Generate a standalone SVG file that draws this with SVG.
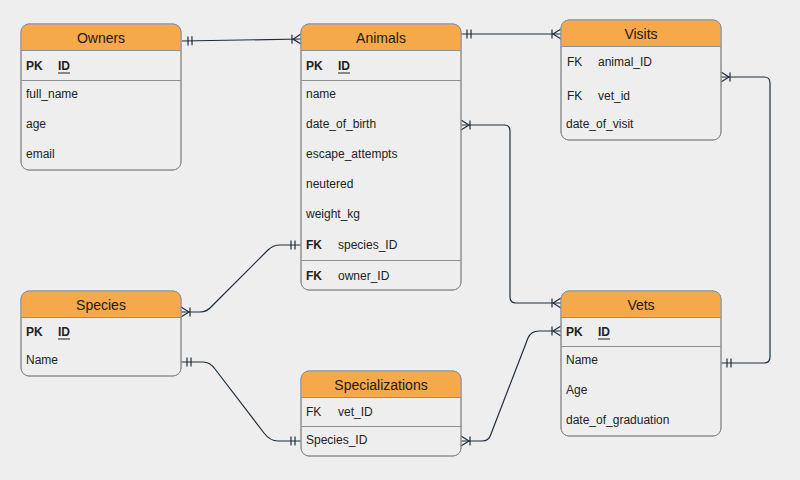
<svg xmlns="http://www.w3.org/2000/svg" width="800" height="480" viewBox="0 0 800 480">
<style>
.bg{fill:#eeeeee}
.box{fill:#eeeeee;stroke:#909090;stroke-width:1}
.hdr{fill:#f5a94b;stroke:none}
.sep{stroke:#909090;stroke-width:1}
.t{font-family:"Liberation Sans",Arial,sans-serif;font-size:12px;fill:#222222}
.b{font-weight:bold}
.h{font-family:"Liberation Sans",Arial,sans-serif;font-size:14px;fill:#1a1a1a;text-anchor:middle}
.ul{stroke:#222222;stroke-width:1}
.e{fill:none;stroke:#1d2d3d;stroke-width:1.2}
</style>
<defs>
<marker id="one" markerUnits="userSpaceOnUse" viewBox="-14 -7 16 14" refX="0" refY="0" markerWidth="16" markerHeight="14" orient="auto-start-reverse">
<path d="M-6 -4.5V4.5M-10 -4.5V4.5" fill="none" stroke="#1d2d3d" stroke-width="1.2"/>
</marker>
<marker id="many" markerUnits="userSpaceOnUse" viewBox="-14 -7 16 14" refX="0" refY="0" markerWidth="16" markerHeight="14" orient="auto-start-reverse">
<path d="M-9 -4.5V4.5M-8 0L0 -5M-8 0L0 5" fill="none" stroke="#1d2d3d" stroke-width="1.2"/>
</marker>
</defs>
<rect class="bg" x="0" y="0" width="800" height="480"/>

<g id="connectors">
<path class="e" d="M182 41L301 39" marker-start="url(#one)" marker-end="url(#many)"/>
<path class="e" d="M461 34L561 34" marker-start="url(#one)" marker-end="url(#many)"/>
<path class="e" d="M461 125L504 125Q510 125 510 131L510 297Q510 303 516 303L561 303" marker-start="url(#many)" marker-end="url(#many)"/>
<path class="e" d="M721 77L764 77Q770 77 770 83L770 357Q770 363 764 363L721 363" marker-start="url(#many)" marker-end="url(#one)"/>
<path class="e" d="M181 312L200 312Q207 312 212 306L268 250Q273 245 280 245L301 245" marker-start="url(#many)" marker-end="url(#one)"/>
<path class="e" d="M181 362L203 362Q210 362 215 369L264 433Q270 441 278 441L301 441" marker-start="url(#one)" marker-end="url(#one)"/>
<path class="e" d="M461 441L482 441Q489 441 491 434L528 338Q531 331 539 331L561 331" marker-start="url(#many)" marker-end="url(#many)"/>
</g>

<g id="owners">
<rect class="box" x="21" y="24" width="160" height="146" rx="8"/>
<path class="hdr" d="M21.5 50V32Q21.5 24.5 29 24.5H173Q180.5 24.5 180.5 32V50Z"/>
<rect x="21" y="24" width="160" height="146" rx="8" fill="none" stroke="#909090"/>
<line class="sep" x1="21" y1="50.5" x2="181" y2="50.5"/>
<text class="h" x="101" y="43">Owners</text>
<text class="t b" x="26" y="70">PK</text>
<text class="t b" x="58" y="70">ID</text>
<line class="ul" x1="58" y1="73" x2="70" y2="73"/>
<line class="sep" x1="21" y1="80.5" x2="181" y2="80.5"/>
<text class="t" x="26" y="98">full_name</text>
<text class="t" x="26" y="128">age</text>
<text class="t" x="26" y="158">email</text>
</g>

<g id="animals">
<rect class="box" x="301" y="24" width="160" height="266" rx="8"/>
<path class="hdr" d="M301.5 50V32Q301.5 24.5 309 24.5H453Q460.5 24.5 460.5 32V50Z"/>
<rect x="301" y="24" width="160" height="266" rx="8" fill="none" stroke="#909090"/>
<line class="sep" x1="301" y1="50.5" x2="461" y2="50.5"/>
<text class="h" x="381" y="43">Animals</text>
<text class="t b" x="306" y="70">PK</text>
<text class="t b" x="338" y="70">ID</text>
<line class="ul" x1="338" y1="73" x2="350" y2="73"/>
<line class="sep" x1="301" y1="80.5" x2="461" y2="80.5"/>
<text class="t" x="306" y="98">name</text>
<text class="t" x="306" y="128">date_of_birth</text>
<text class="t" x="306" y="158">escape_attempts</text>
<text class="t" x="306" y="188">neutered</text>
<text class="t" x="306" y="218">weight_kg</text>
<text class="t b" x="306" y="249">FK</text>
<text class="t" x="338" y="249">species_ID</text>
<line class="sep" x1="301" y1="260.5" x2="461" y2="260.5"/>
<text class="t b" x="306" y="280">FK</text>
<text class="t" x="338" y="280">owner_ID</text>
</g>

<g id="visits">
<rect class="box" x="561" y="20" width="160" height="120" rx="8"/>
<path class="hdr" d="M561.5 46V28Q561.5 20.5 569 20.5H713Q720.5 20.5 720.5 28V46Z"/>
<rect x="561" y="20" width="160" height="120" rx="8" fill="none" stroke="#909090"/>
<line class="sep" x1="561" y1="46.5" x2="721" y2="46.5"/>
<text class="h" x="641" y="39">Visits</text>
<text class="t" x="567" y="66">FK</text>
<text class="t" x="598" y="66">animal_ID</text>
<text class="t" x="567" y="100">FK</text>
<text class="t" x="598" y="100">vet_id</text>
<text class="t" x="566" y="128">date_of_visit</text>
</g>

<g id="species">
<rect class="box" x="21" y="291" width="160" height="85" rx="8"/>
<path class="hdr" d="M21.5 317V299Q21.5 291.5 29 291.5H173Q180.5 291.5 180.5 299V317Z"/>
<rect x="21" y="291" width="160" height="85" rx="8" fill="none" stroke="#909090"/>
<line class="sep" x1="21" y1="317.5" x2="181" y2="317.5"/>
<text class="h" x="101" y="310">Species</text>
<text class="t b" x="26" y="336">PK</text>
<text class="t b" x="58" y="336">ID</text>
<line class="ul" x1="58" y1="339" x2="70" y2="339"/>
<text class="t" x="26" y="364">Name</text>
</g>

<g id="specializations">
<rect class="box" x="301" y="371" width="160" height="85" rx="8"/>
<path class="hdr" d="M301.5 397V379Q301.5 371.5 309 371.5H453Q460.5 371.5 460.5 379V397Z"/>
<rect x="301" y="371" width="160" height="85" rx="8" fill="none" stroke="#909090"/>
<line class="sep" x1="301" y1="397.5" x2="461" y2="397.5"/>
<text class="h" x="381" y="390">Specializations</text>
<text class="t" x="306" y="416">FK</text>
<text class="t" x="338" y="416">vet_ID</text>
<line class="sep" x1="301" y1="426.5" x2="461" y2="426.5"/>
<text class="t" x="306" y="444">Species_ID</text>
</g>

<g id="vets">
<rect class="box" x="561" y="291" width="160" height="145" rx="8"/>
<path class="hdr" d="M561.5 317V299Q561.5 291.5 569 291.5H713Q720.5 291.5 720.5 299V317Z"/>
<rect x="561" y="291" width="160" height="145" rx="8" fill="none" stroke="#909090"/>
<line class="sep" x1="561" y1="317.5" x2="721" y2="317.5"/>
<text class="h" x="641" y="310">Vets</text>
<text class="t b" x="566" y="336">PK</text>
<text class="t b" x="598" y="336">ID</text>
<line class="ul" x1="598" y1="339" x2="610" y2="339"/>
<line class="sep" x1="561" y1="346.5" x2="721" y2="346.5"/>
<text class="t" x="566" y="364">Name</text>
<text class="t" x="566" y="394">Age</text>
<text class="t" x="566" y="424">date_of_graduation</text>
</g>
</svg>
